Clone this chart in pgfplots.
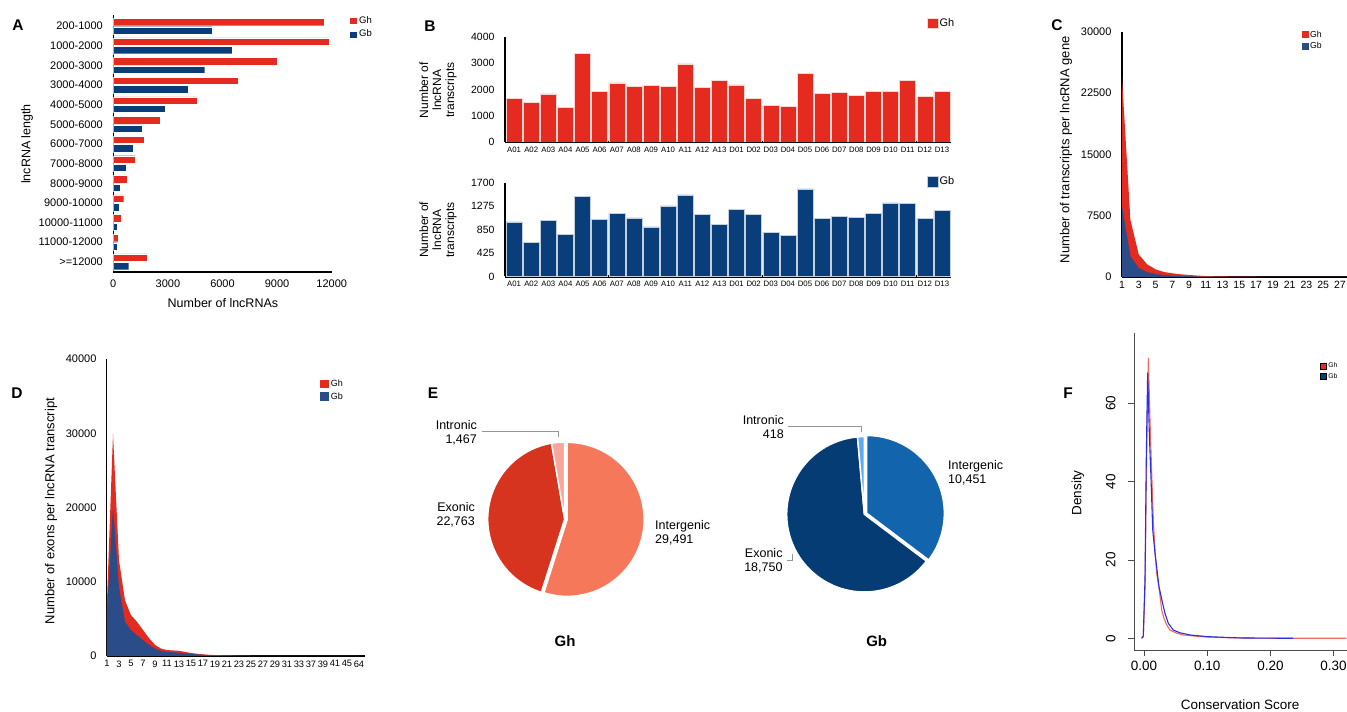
\documentclass[border=0pt]{standalone}
\usepackage{fontspec}
\setmainfont{Liberation Sans}
\usepackage{pgfplots}
\pgfplotsset{compat=1.18}
\newcommand{\fs}[1]{\fontsize{#1}{#1}\selectfont}
\definecolor{ghred}{RGB}{229,43,31}
\definecolor{gbblue}{RGB}{10,62,122}
\definecolor{gbarea}{RGB}{42,76,136}
\definecolor{ghline}{RGB}{242,105,95}
\definecolor{gbline}{RGB}{45,45,225}
\definecolor{ghIGc}{RGB}{245,120,90}
\definecolor{ghEXc}{RGB}{214,52,30}
\definecolor{ghINc}{RGB}{248,165,155}
\definecolor{gbIGc}{RGB}{18,100,172}
\definecolor{gbEXc}{RGB}{5,60,115}
\definecolor{gbINc}{RGB}{95,170,240}
\definecolor{leader}{RGB}{150,150,150}
\pgfplotsset{
  myaxis/.style={scale only axis, anchor=south west, axis lines=left,
    axis line style={-}, scaled ticks=false,
    /pgf/number format/assume math mode=true,
    legend cell align=left},
  sqlegend/.style n args={3}{legend image code/.code={\fill[##1] (0pt,-#2) rectangle (#1,#2);},
    legend style={draw=none, fill=none, anchor=north west, inner sep=0pt, row sep=#3,
      nodes={inner sep=1.5pt}}},
}
% pie data
\def\ghIG{29491}\def\ghEX{22763}\def\ghIN{1467}
\def\gbIG{10451}\def\gbEX{18750}\def\gbIN{418}
\edef\ghA{\fpeval{90-360*\ghIG/(\ghIG+\ghEX+\ghIN)}}
\edef\ghB{\fpeval{\ghA-360*\ghEX/(\ghIG+\ghEX+\ghIN)}}
\edef\ghM{\fpeval{(90+\ghA)/2}}
\edef\gbA{\fpeval{90-360*\gbIG/(\gbIG+\gbEX+\gbIN)}}
\edef\gbB{\fpeval{\gbA-360*\gbEX/(\gbIG+\gbEX+\gbIN)}}
\edef\gbM{\fpeval{(90+\gbA)/2}}
\begin{document}
\begin{tikzpicture}[x=1pt,y=1pt]
\path[use as bounding box] (0,0) rectangle (1347,712);

% ---------------- Panel A ----------------
\begin{axis}[myaxis, at={(113.3pt,440pt)}, width=218.4pt, height=257pt,
  xmin=0, xmax=12000, ymin=-0.52, ymax=12.57,
  axis line style={line width=1.6pt},
  xbar, bar width=7.4pt,
  xtick={0,3000,6000,9000,12000}, xticklabels={0,3000,6000,9000,12000},
  ytick={0,1,...,12},
  yticklabels={{>=12000},{11000-12000},{10000-11000},{9000-10000},{8000-9000},{7000-8000},{6000-7000},{5000-6000},{4000-5000},{3000-4000},{2000-3000},{1000-2000},{200-1000}},
  major tick length=0pt,
  xticklabel style={font=\fs{11}, yshift=-4pt},
  yticklabel style={font=\fs{11}, xshift=-7pt},
  xlabel={Number of lncRNAs}, xlabel style={font=\fs{12.5}, at={(axis description cs:0.502,-0.12)}, anchor=center},
  ylabel={lncRNA length}, ylabel style={font=\fs{12.5}, at={(axis description cs:-0.395,0.498)}, anchor=center},
  sqlegend={8pt}{3.5pt}{2pt},
  legend style={at={(axis description cs:1.08,1.0)}, font=\fs{9.5}},
]
\addplot[bar shift=4.2pt, fill=ghred, draw=white, line width=0.3pt] coordinates {
 (11580,12) (11870,11) (9020,10) (6840,9) (4610,8) (2590,7) (1710,6)
 (1180,5) (750,4) (570,3) (440,2) (260,1) (1840,0)};
\addplot[bar shift=-4.2pt, fill=gbblue, draw=white, line width=0.3pt] coordinates {
 (5440,12) (6540,11) (5020,10) (4100,9) (2850,8) (1600,7) (1100,6)
 (720,5) (400,4) (310,3) (220,2) (220,1) (845,0)};
\legend{Gh,Gb}
\end{axis}

% ---------------- Panel B top ----------------
\begin{axis}[myaxis, at={(505pt,570pt)}, width=446pt, height=105pt,
  xmin=-0.53, xmax=25.53, ymin=0, ymax=4000,
  ybar, bar width=16pt,
  x axis line style={line width=2.2pt}, y axis line style={line width=2.8pt},
  major tick length=0pt,
  xtick={0,1,...,25},
  xticklabels={A01,A02,A03,A04,A05,A06,A07,A08,A09,A10,A11,A12,A13,D01,D02,D03,D04,D05,D06,D07,D08,D09,D10,D11,D12,D13},
  ytick={0,1000,2000,3000,4000}, yticklabels={0,1000,2000,3000,4000},
  xticklabel style={font=\fs{7.8}, yshift=-1.5pt},
  yticklabel style={font=\fs{10.5}, xshift=-7pt},
  ylabel={Number of\\lncRNA\\transcripts},
  ylabel style={align=center, font=\fontsize{12}{13}\selectfont, at={(axis description cs:-0.150,0.495)}, anchor=center},
  sqlegend={10.5pt}{5.25pt}{2pt},
  legend style={at={(axis description cs:0.946,1.19)}, font=\fs{11}},
]
\addplot[fill=ghred, draw=white!80!ghred, line width=0.5pt] coordinates {
 (0,1650) (1,1510) (2,1830) (3,1310) (4,3380) (5,1940) (6,2250) (7,2130) (8,2160)
 (9,2130) (10,2980) (11,2070) (12,2340) (13,2180) (14,1660) (15,1400) (16,1370)
 (17,2620) (18,1850) (19,1880) (20,1770) (21,1920) (22,1920) (23,2340) (24,1730) (25,1940)};
\legend{Gh}
\end{axis}

% ---------------- Panel B bottom ----------------
\begin{axis}[myaxis, at={(505pt,435.5pt)}, width=446pt, height=93.8pt,
  xmin=-0.53, xmax=25.53, ymin=0, ymax=1700,
  ybar, bar width=16pt,
  x axis line style={line width=2.2pt}, y axis line style={line width=2.8pt},
  major tick length=0pt,
  xtick={0,1,...,25},
  xticklabels={A01,A02,A03,A04,A05,A06,A07,A08,A09,A10,A11,A12,A13,D01,D02,D03,D04,D05,D06,D07,D08,D09,D10,D11,D12,D13},
  ytick={0,425,850,1275,1700}, yticklabels={0,425,850,1275,1700},
  xticklabel style={font=\fs{7.8}, yshift=-1.5pt},
  yticklabel style={font=\fs{10.5}, xshift=-7pt},
  ylabel={Number of\\lncRNA\\transcripts},
  ylabel style={align=center, font=\fontsize{12}{13}\selectfont, at={(axis description cs:-0.150,0.496)}, anchor=center},
  sqlegend={10.5pt}{5.25pt}{2pt},
  legend style={at={(axis description cs:0.946,1.08)}, font=\fs{11}},
]
\addplot[fill=gbblue, draw=white!75!gbblue, line width=0.5pt] coordinates {
 (0,990) (1,613) (2,1014) (3,759) (4,1451) (5,1032) (6,1141) (7,1062) (8,898)
 (9,1281) (10,1481) (11,1123) (12,941) (13,1220) (14,1123) (15,801) (16,741)
 (17,1590) (18,1056) (19,1087) (20,1068) (21,1141) (22,1335) (23,1323) (24,1056) (25,1195)};
\legend{Gb}
\end{axis}

% ---------------- Panel C ----------------
\begin{axis}[myaxis, at={(1122pt,435pt)}, width=225pt, height=245.3pt,
  xmin=1, xmax=27.85, ymin=0, ymax=30000,
  x axis line style={line width=1.5pt}, y axis line style={line width=1.2pt},
  major tick length=0pt,
  xtick={1,3,...,27}, xticklabels={1,3,5,7,9,11,13,15,17,19,21,23,25,27},
  ytick={0,7500,15000,22500,30000}, yticklabels={0,7500,15000,22500,30000},
  xticklabel style={font=\fs{10.5}, yshift=-1pt},
  yticklabel style={font=\fs{11}, xshift=-7pt},
  ylabel={Number of transcripts per lncRNA gene},
  ylabel style={font=\fs{13}, at={(axis description cs:-0.249,0.518)}, anchor=center},
  sqlegend={6.5pt}{3.5pt}{1pt},
  legend style={at={(axis description cs:0.8,1.011)}, font=\fs{8.7}},
]
\addplot[fill=ghred, draw=none] coordinates {
 (1,24400) (2,7000) (3,2750) (4,1550) (5,940) (6,610) (7,450) (8,330) (9,250)
 (10,170) (11,120) (12,90) (13,70) (14,55) (15,45) (16,35) (17,30) (18,25) (19,20)
 (20,16) (21,13) (22,10) (23,8) (24,6) (25,5) (26,4) (27,3) (28,2)} \closedcycle;
\addplot[fill=gbarea, draw=none] coordinates {
 (1,8650) (2,2550) (3,1100) (4,600) (5,360) (6,240) (7,160) (8,120) (9,80)
 (10,60) (11,45) (12,35) (13,25) (14,20) (15,15) (16,12) (17,10) (18,8) (19,6)
 (20,5) (21,4) (22,3) (23,2) (24,2) (25,1) (26,1) (27,1) (28,0)} \closedcycle;
\legend{Gh,Gb}
\end{axis}

% ---------------- Panel D ----------------
\begin{axis}[myaxis, at={(107pt,56pt)}, width=258pt, height=297pt,
  xmin=0, xmax=43, ymin=0, ymax=40000,
  x axis line style={line width=1.5pt}, y axis line style={line width=1pt},
  major tick length=0pt,
  xtick={0,2,...,42},
  xticklabels={1,3,5,7,9,11,13,15,17,19,21,23,25,27,29,31,33,37,39,41,45,64},
  ytick={0,10000,20000,30000,40000}, yticklabels={0,10000,20000,30000,40000},
  xticklabel style={font=\fs{9.3}, yshift=-1pt},
  yticklabel style={font=\fs{11}, xshift=-7pt},
  ylabel={Number of exons per lncRNA transcript},
  ylabel style={font=\fs{13}, at={(axis description cs:-0.217,0.488)}, anchor=center},
  sqlegend={9pt}{4.25pt}{1.5pt},
  legend style={at={(axis description cs:0.826,0.935)}, font=\fs{9}},
]
\addplot[fill=ghred, draw=none] coordinates {
 (0,7500) (1,29900) (2,12900) (3,7500) (4,5500) (5,4600) (6,3500) (7,2400) (8,1500)
 (9,1000) (10,800) (11,750) (12,700) (13,550) (14,400) (15,300) (16,220) (17,160)
 (18,120) (19,100) (20,80) (21,65) (22,50) (23,40) (24,32) (25,25) (26,20) (27,16)
 (28,13) (29,10) (30,8) (31,6) (32,5) (33,4) (34,3) (35,3) (36,2) (37,2) (38,1)
 (39,1) (40,1) (41,1) (42,1)} \closedcycle;
\addplot[fill=gbarea, draw=none] coordinates {
 (0,6000) (1,20100) (2,9300) (3,4600) (4,3500) (5,2800) (6,2150) (7,1500) (8,1000)
 (9,700) (10,540) (11,500) (12,450) (13,350) (14,300) (15,200) (16,150) (17,110)
 (18,85) (19,65) (20,50) (21,40) (22,32) (23,25) (24,20) (25,16) (26,12) (27,10)
 (28,8) (29,6) (30,5) (31,4) (32,3) (33,3) (34,2) (35,2) (36,1) (37,1) (38,1)
 (39,1) (40,0) (41,0) (42,0)} \closedcycle;
\legend{Gh,Gb}
\end{axis}

% ---------------- Panel E : pies ----------------
\begin{axis}[scale only axis, anchor=south west, hide axis, at={(487.7pt,116pt)},
  width=154pt, height=154pt, xmin=-1, xmax=1, ymin=-1, ymax=1, clip=false]
\addplot[draw=none, forget plot] coordinates {(0,0)};
\fill[ghEXc, draw=white, line width=1.5pt] (axis cs:0,0) -- (axis cs:{cos(\ghA)},{sin(\ghA)})
  arc[start angle=\ghA, end angle=\ghB, radius=77pt] -- cycle;
\fill[ghINc, draw=white, line width=1.5pt] (axis cs:0,0) -- (axis cs:{cos(\ghB)},{sin(\ghB)})
  arc[start angle=\ghB, end angle=-270, radius=77pt] -- cycle;
\fill[ghIGc, draw=white, line width=1.5pt, shift={(\ghM:2.5pt)}] (axis cs:0,0) -- (axis cs:0,1)
  arc[start angle=90, end angle=\ghA, radius=77pt] -- cycle;
\end{axis}
\begin{axis}[scale only axis, anchor=south west, hide axis, at={(786.7pt,120pt)},
  width=155.4pt, height=155.4pt, xmin=-1, xmax=1, ymin=-1, ymax=1, clip=false]
\addplot[draw=none, forget plot] coordinates {(0,0)};
\fill[gbEXc, draw=white, line width=1.5pt] (axis cs:0,0) -- (axis cs:{cos(\gbA)},{sin(\gbA)})
  arc[start angle=\gbA, end angle=\gbB, radius=77.7pt] -- cycle;
\fill[gbINc, draw=white, line width=1.5pt] (axis cs:0,0) -- (axis cs:{cos(\gbB)},{sin(\gbB)})
  arc[start angle=\gbB, end angle=-270, radius=77.7pt] -- cycle;
\fill[gbIGc, draw=white, line width=1.5pt, shift={(\gbM:2.5pt)}] (axis cs:0,0) -- (axis cs:0,1)
  arc[start angle=90, end angle=\gbA, radius=77.7pt] -- cycle;
\end{axis}

% ---------------- Panel F ----------------
\begin{axis}[myaxis, at={(1134pt,62pt)}, width=213pt, height=316.7pt,
  xmin=-0.0158, xmax=0.3212, ymin=-2.99, ymax=77.87,
  axis line style={black!70, line width=0.8pt},
  tick align=outside, major tick length=6pt, tick style={black!70, line width=0.8pt},
  xtick={0,0.1,0.2,0.3}, xticklabels={0.00,0.10,0.20,0.30},
  ytick={0,20,40,60}, yticklabels={0,20,40,60},
  xticklabel style={font=\fs{13.5}, yshift=-2pt},
  yticklabel style={font=\fs{13.5}, rotate=90, anchor=south},
  yticklabel shift=9pt,
  xlabel={Conservation Score},
  xlabel style={font=\fs{13.5}, at={(axis description cs:0.498,-0.172)}, anchor=center},
  ylabel={Density},
  ylabel style={font=\fs{13.5}, at={(axis description cs:-0.263,0.496)}, anchor=center},
  sqlegend={6.5pt}{3.25pt}{0.8pt},
  legend style={at={(axis description cs:0.872,0.912)}, font=\fs{6.8}},
]
\addlegendimage{fill=ghred}
\addlegendimage{fill=gbblue}
\addplot[ghline, line width=1.1pt, forget plot] coordinates {
 (-0.0037,0) (-0.0011,0.4) (0.0016,13) (0.0042,47) (0.0069,71.5) (0.0095,55.7)
 (0.012,43) (0.0148,30) (0.0174,22.5) (0.02,16.6) (0.0243,12.3) (0.028,7.2)
 (0.0316,5.1) (0.036,3.4) (0.041,2.1) (0.052,1.3) (0.062,0.85) (0.078,0.6)
 (0.099,0.34) (0.125,0.17) (0.152,0.08) (0.2,0.02) (0.236,0) (0.32,0)};
\addplot[gbline, line width=1.1pt, forget plot] coordinates {
 (-0.0037,0) (-0.0011,0.6) (0.0016,15) (0.0037,47) (0.0058,67.8) (0.0086,51.5)
 (0.0112,40.4) (0.0138,27.7) (0.0174,21.7) (0.02,18.3) (0.0237,13.2) (0.026,11.5)
 (0.0295,8.9) (0.0332,6.4) (0.0385,3.8) (0.0464,2.1) (0.057,1.4) (0.0728,0.85)
 (0.099,0.43) (0.125,0.26) (0.152,0.09) (0.2,0.03) (0.236,0)};
\legend{Gh,Gb}
\end{axis}

% ---------------- Pie labels and leaders ----------------
\begin{scope}[font=\fontsize{12.5}{14}\selectfont]
\node[align=right, anchor=north east, inner sep=0pt] at (477,291.5) {Intronic\\1,467};
\node[align=right, anchor=north east, inner sep=0pt] at (475,209.8) {Exonic\\22,763};
\node[align=left, anchor=north west, inner sep=0pt] at (655,191.5) {Intergenic\\29,491};
\node[align=right, anchor=north east, inner sep=0pt] at (784,296.5) {Intronic\\418};
\node[align=right, anchor=north east, inner sep=0pt] at (782.7,163.8) {Exonic\\18,750};
\node[align=left, anchor=north west, inner sep=0pt] at (948,251.5) {Intergenic\\10,451};
\end{scope}
\draw[leader, line width=0.7pt] (481.7,280.3) -- (558.3,280.3) -- (558.3,275);
\draw[leader, line width=0.7pt] (788.3,285.3) -- (861.7,285.3) -- (861.7,280);
\draw[leader, line width=0.7pt] (786.7,152) -- (792.7,152) -- (792.7,158);
\node[font=\bfseries\fs{15}] at (565,71) {Gh};
\node[font=\bfseries\fs{15}] at (876.7,71) {Gb};

% ---------------- Panel letters ----------------
\begin{scope}[font=\bfseries\fs{15.5}]
\node at (18,687) {A};
\node at (430,686) {B};
\node at (1057,687) {C};
\node at (17,319) {D};
\node at (433,319) {E};
\node at (1068,319) {F};
\end{scope}
\end{tikzpicture}
\end{document}
